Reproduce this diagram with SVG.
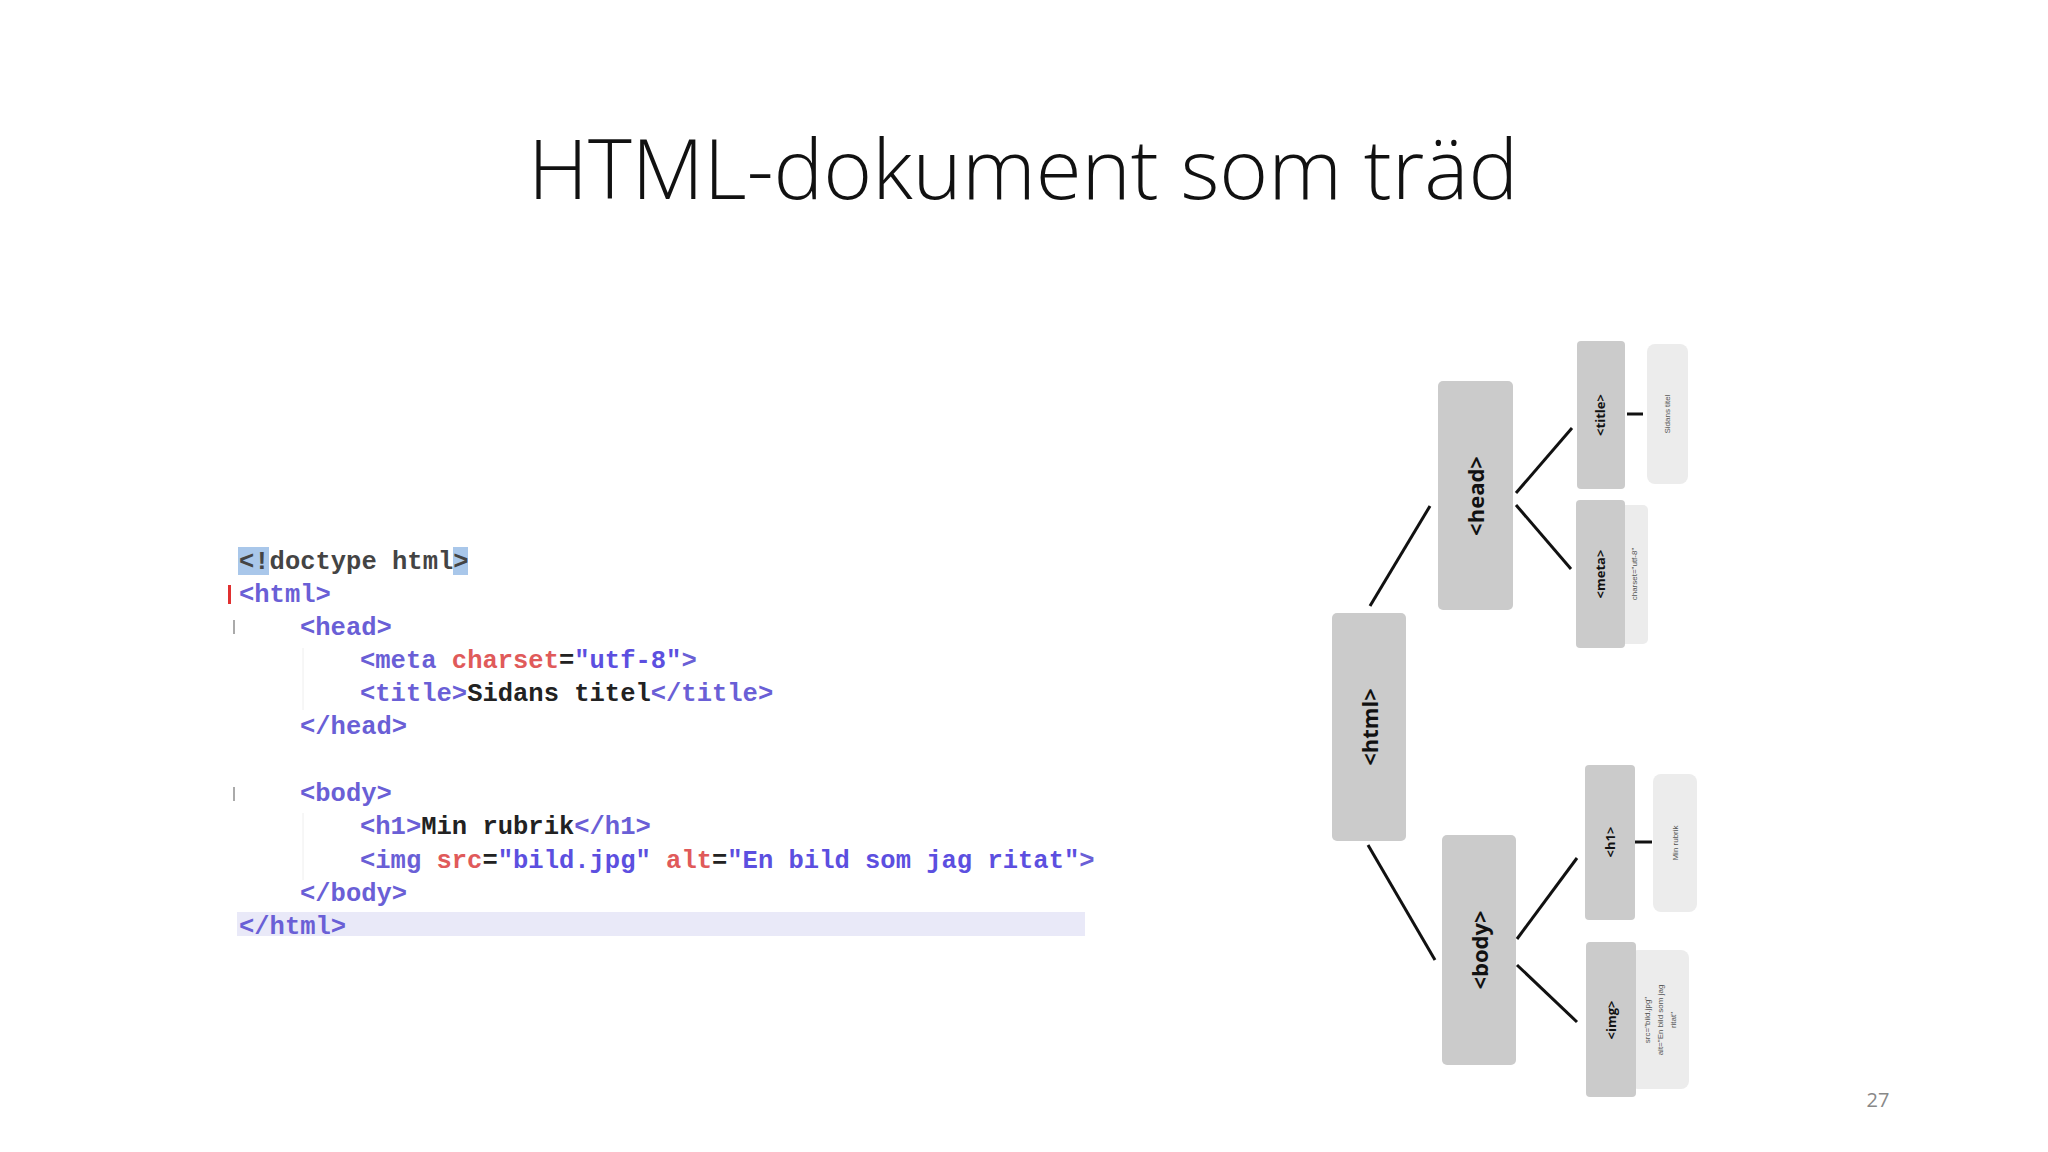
<svg xmlns="http://www.w3.org/2000/svg" width="2048" height="1152" viewBox="0 0 2048 1152">
<style>
.code{font-family:"Liberation Mono",monospace;font-size:25.5px;font-weight:bold}
.tg{fill:#6a5fd6}.at{fill:#e05a5a}.vl{fill:#5c4fe0}.tx{fill:#222}
.nb{fill:#cbcbcb}.nv{fill:#ececec}
.big{font-family:"Open Sans","Liberation Sans",sans-serif;font-weight:bold;font-size:22px;fill:#111}
.sm{font-family:"Open Sans","Liberation Sans",sans-serif;font-weight:bold;font-size:13px;fill:#111}
.xs{font-family:"Liberation Sans",sans-serif;font-size:8px;fill:#555}
.ln{stroke:#111;stroke-width:3;fill:none}
</style>
<rect width="2048" height="1152" fill="#fff"/>
<text x="1023" y="199" text-anchor="middle" font-family="Open Sans, Liberation Sans, sans-serif" font-weight="300" font-size="83.5" fill="#111">HTML-dokument som träd</text>
<g id="code">
<rect x="237" y="912" width="848" height="24" fill="#e9e9f8"/>
<rect x="238" y="547" width="31" height="28" fill="#a9c7ea"/>
<rect x="453" y="547" width="15" height="28" fill="#a9c7ea"/>
<rect x="228" y="585" width="3" height="19" fill="#e03030"/>
<rect x="233" y="620" width="2" height="14" fill="#aaa"/>
<rect x="233" y="787" width="2" height="14" fill="#aaa"/>
<line x1="303" y1="648" x2="303" y2="710" stroke="#eee" stroke-width="1"/>
<line x1="303" y1="813" x2="303" y2="880" stroke="#eee" stroke-width="1"/>
<text class="code" x="239" y="569" fill="#444">&lt;!doctype html&gt;</text>
<text class="code tg" x="239" y="602">&lt;html&gt;</text>
<text class="code tg" x="300" y="635">&lt;head&gt;</text>
<text class="code" x="360" y="668"><tspan class="tg">&lt;meta </tspan><tspan class="at">charset</tspan><tspan class="tx">=</tspan><tspan class="vl">"utf-8"</tspan><tspan class="tg">&gt;</tspan></text>
<text class="code" x="360" y="701"><tspan class="tg">&lt;title&gt;</tspan><tspan class="tx">Sidans titel</tspan><tspan class="tg">&lt;/title&gt;</tspan></text>
<text class="code tg" x="300" y="734">&lt;/head&gt;</text>
<text class="code tg" x="300" y="801">&lt;body&gt;</text>
<text class="code" x="360" y="834"><tspan class="tg">&lt;h1&gt;</tspan><tspan class="tx">Min rubrik</tspan><tspan class="tg">&lt;/h1&gt;</tspan></text>
<text class="code" x="360" y="868"><tspan class="tg">&lt;img </tspan><tspan class="at">src</tspan><tspan class="tx">=</tspan><tspan class="vl">"bild.jpg" </tspan><tspan class="at">alt</tspan><tspan class="tx">=</tspan><tspan class="vl">"En bild som jag ritat"</tspan><tspan class="tg">&gt;</tspan></text>
<text class="code tg" x="300" y="901">&lt;/body&gt;</text>
<text class="code tg" x="239" y="934">&lt;/html&gt;</text>
</g>
<g id="connectors">
<line class="ln" x1="1370" y1="606" x2="1430" y2="506"/>
<line class="ln" x1="1368" y1="845" x2="1435" y2="960"/>
<line class="ln" x1="1516" y1="493" x2="1572" y2="428"/>
<line class="ln" x1="1516" y1="505" x2="1571" y2="569"/>
<line class="ln" x1="1627" y1="414" x2="1643" y2="414"/>
<line class="ln" x1="1517" y1="939" x2="1577" y2="858"/>
<line class="ln" x1="1517" y1="965" x2="1577" y2="1022"/>
<line class="ln" x1="1635" y1="842" x2="1652" y2="842"/>
</g>
<g id="n-html"><rect class="nb" x="1332" y="613" width="74" height="228" rx="5"/><text class="big" transform="translate(1378,727) rotate(-90)" text-anchor="middle">&lt;html&gt;</text></g>
<g id="n-head"><rect class="nb" x="1438" y="381" width="75" height="229" rx="5"/><text class="big" transform="translate(1484,496) rotate(-90)" text-anchor="middle">&lt;head&gt;</text></g>
<g id="n-body"><rect class="nb" x="1442" y="835" width="74" height="230" rx="5"/><text class="big" transform="translate(1488,950) rotate(-90)" text-anchor="middle">&lt;body&gt;</text></g>
<g id="n-title"><rect class="nb" x="1577" y="341" width="48" height="148" rx="4"/><text class="sm" transform="translate(1605,415) rotate(-90)" text-anchor="middle">&lt;title&gt;</text></g>
<g id="v-title"><rect class="nv" x="1647" y="344" width="41" height="140" rx="8"/><text class="xs" transform="translate(1670,414) rotate(-90)" text-anchor="middle">Sidans titel</text></g>
<g id="n-meta"><rect class="nv" x="1620" y="505" width="28" height="139" rx="5"/><rect class="nb" x="1576" y="500" width="49" height="148" rx="4"/><text class="sm" transform="translate(1605,574) rotate(-90)" text-anchor="middle">&lt;meta&gt;</text><text class="xs" transform="translate(1637,574) rotate(-90)" text-anchor="middle">charset="utf-8"</text></g>
<g id="n-h1"><rect class="nb" x="1585" y="765" width="50" height="155" rx="4"/><text class="sm" transform="translate(1615,842) rotate(-90)" text-anchor="middle">&lt;h1&gt;</text></g>
<g id="v-h1"><rect class="nv" x="1653" y="774" width="44" height="138" rx="8"/><text class="xs" transform="translate(1678,843) rotate(-90)" text-anchor="middle">Min rubrik</text></g>
<g id="n-img"><rect class="nv" x="1630" y="950" width="59" height="139" rx="8"/><rect class="nb" x="1586" y="942" width="50" height="155" rx="4"/><text class="sm" transform="translate(1616,1020) rotate(-90)" text-anchor="middle">&lt;img&gt;</text><text class="xs" transform="translate(1650,1020) rotate(-90)" text-anchor="middle">src="bild.jpg"</text><text class="xs" transform="translate(1663,1020) rotate(-90)" text-anchor="middle">alt="En bild som jag</text><text class="xs" transform="translate(1676,1020) rotate(-90)" text-anchor="middle">ritat"</text></g>
<text x="1878" y="1107" text-anchor="middle" font-family="Open Sans, Liberation Sans, sans-serif" font-size="20" fill="#888">27</text>
</svg>
